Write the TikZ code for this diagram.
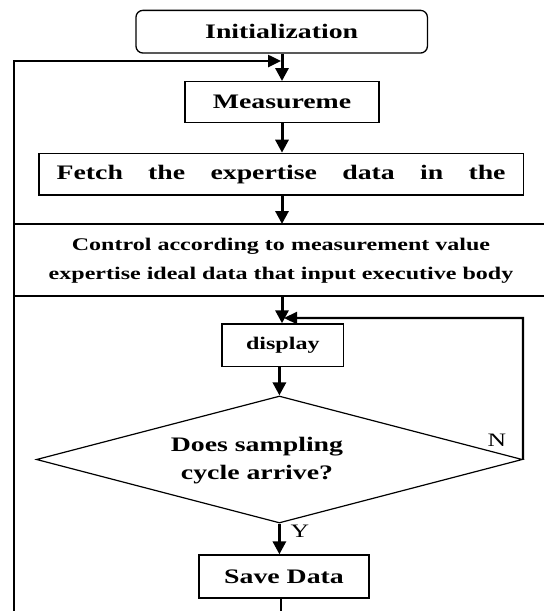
\documentclass[tikz,border=0pt]{standalone}
\usepackage{fontspec}
\setmainfont{Liberation Serif}[FakeStretch=1.35]
\usetikzlibrary{arrows.meta,shapes.geometric}
\begin{document}
\begin{tikzpicture}[x=1pt,y=-1pt,
  box/.style={draw,line width=1.3pt,inner sep=0pt},
  big/.style={font=\bfseries\fontsize{20.6}{28}\selectfont},
  small/.style={font=\bfseries\fontsize{17.8}{29.3}\selectfont},
  lab/.style={font=\fontsize{19}{21}\selectfont,inner sep=0pt},
  arr/.style={line width=3pt,-{Triangle[length=13pt,width=13pt]}},
  loopline/.style={line width=2.5pt,line join=miter,-{Triangle[length=13pt,width=12pt]}},
  thinline/.style={line width=1.5pt},
  backline/.style={line width=2.2pt}]
\useasboundingbox (0,0) rectangle (544,611);
% coordinates
\coordinate (lb) at (14,611);
\coordinate (lt) at (14,61);
\coordinate (lj) at (281,61);
\coordinate (ctl) at (14,224);
\coordinate (ctr) at (544,224);
\coordinate (cbl) at (14,296);
\coordinate (cbr) at (544,296);
\coordinate (ct) at (282,224);
\coordinate (cb) at (282,296);
\coordinate (fbc) at (523,318);
\coordinate (fbt) at (284,318);
\coordinate (sb) at (281,611);
% nodes
\node[box,rounded corners=7pt,big,minimum width=291.5pt,minimum height=42.7pt] (init) at (281.7,31.7) {Initialization};
\node[box,big,minimum width=194pt,minimum height=40.6pt] (meas) at (282,102) {Measureme\hspace{12pt}};
\node[box,big,minimum width=484.4pt,minimum height=41.7pt] (fetch) at (281.1,174.2) {\makebox[449pt][s]{Fetch the expertise data in the}};
\node[small,align=center,inner sep=0pt] (ctrl) at (281,261) {Control according to measurement value\\expertise ideal data that input executive body};
\node[box,small,minimum width=121.5pt,minimum height=42.7pt] (disp) at (282.8,345.3) {display};
\node[draw,diamond,line width=1.2pt,inner sep=0pt,aspect=3.83,minimum width=486pt,minimum height=127pt] (dia) at (279.4,459.5) {};
\node[big,align=center,inner sep=0pt] (dtext) at (257,461) {Does sampling\\cycle arrive?};
\node[box,big,minimum width=170pt,minimum height=43pt] (save) at (284,576.5) {Save Data};
\node[lab] (nlab) at (497,440) {N};
\node[lab] (ylab) at (300,531) {Y};
% connectors
\draw[loopline] (lb) -- (lt) -- (lj);
\draw[arr] (init.south -| meas.north) -- (meas.north);
\draw[arr] (meas.south) -- (meas.south |- fetch.north);
\draw[arr] (fetch.south -| ct) -- (ct);
\draw[thinline] (ctl) -- (ctr);
\draw[thinline] (cbl) -- (cbr);
\draw[arr] (cb) -- (cb |- disp.north);
\draw[arr] (disp.south -| dia.north) -- (dia.north);
\draw[backline,-{Triangle[length=13pt,width=12pt]}] (dia.east) -- (fbc) -- (fbt);
\draw[arr] (dia.south) -- (dia.south |- save.north);
\draw[line width=2pt] (save.south -| sb) -- (sb);
\end{tikzpicture}
\end{document}
